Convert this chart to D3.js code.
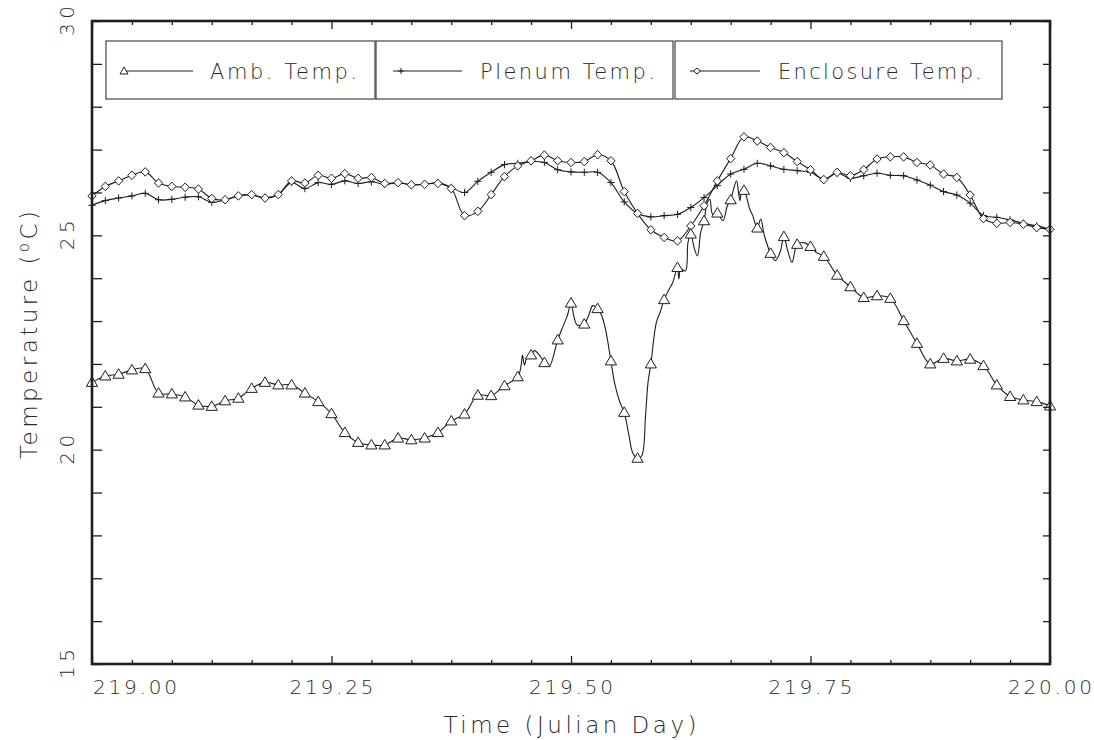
<!DOCTYPE html>
<html><head><meta charset="utf-8">
<script src="https://cdn.jsdelivr.net/npm/d3@7"></script>
<style>
body{margin:0;background:#fff}
svg{display:block}
text{font-family:"DejaVu Sans",sans-serif;font-weight:300;fill:#2a2a2a}
</style>
</head><body>
<svg id="c" width="1094" height="740"></svg>
<script>
// ---------- data ----------
const xDomain = [219, 220];
const yDomain = [15, 30];
const xTickLabels = ["219.00", "219.25", "219.50", "219.75", "220.00"];
const xTickValues = [219.00, 219.25, 219.50, 219.75, 220.00];
const yTickLabels = ["15", "20", "25", "30"];
const yTickValues = [15, 20, 25, 30];
const seriesNames = ["Amb. Temp.", "Plenum Temp.", "Enclosure Temp."];
const xTitle = "Time (Julian Day)";
const sampleStepDays = 1 / 72;   // one marker every 20 minutes

const ambient = [
  21.57, 21.72, 21.76, 21.86, 21.89, 21.32, 21.30, 21.23, 21.04, 21.01,
  21.14, 21.20, 21.43, 21.57, 21.51, 21.51, 21.32, 21.12, 20.84, 20.40,
  20.17, 20.11, 20.11, 20.27, 20.23, 20.27, 20.40, 20.67, 20.83, 21.27,
  21.26, 21.49, 21.70, 22.21, 22.03, 22.56, 23.42, 22.93, 23.29, 22.07,
  20.87, 19.80, 22.00, 23.50, 24.25, 25.03, 25.34, 25.52, 25.83, 26.05,
  25.17, 24.58, 24.97, 24.79, 24.74, 24.51, 24.07, 23.80, 23.55, 23.59,
  23.53, 23.01, 22.48, 22.00, 22.13, 22.07, 22.11, 21.96, 21.51, 21.24,
  21.16, 21.12, 21.02
];
// extra unmarked readings of the ambient trace (time, value)
const ambientDetail = [
  [219.4479, 21.96], [219.4494, 22.21], [219.4514, 21.97], [219.4536, 22.13],
  [219.4619, 22.31], [219.4676, 22.19], [219.4771, 21.94], [219.4904, 22.81],
  [219.4961, 23.12], [219.5029, 23.12], [219.5056, 22.93], [219.5094, 22.89],
  [219.5189, 23.16], [219.5227, 23.36], [219.5322, 23.12], [219.5360, 22.81],
  [219.5454, 21.57], [219.5511, 21.10], [219.5606, 20.32], [219.5644, 19.93],
  [219.5739, 19.86], [219.5778, 20.79], [219.5804, 21.57], [219.5891, 22.97],
  [219.5929, 23.20], [219.6024, 23.74], [219.6062, 23.90], [219.6126, 23.98],
  [219.6145, 24.21], [219.6195, 24.17], [219.6221, 24.83], [219.6289, 24.68],
  [219.6320, 24.52], [219.6354, 25.07], [219.6423, 25.77], [219.6449, 25.84],
  [219.6479, 25.49], [219.6586, 25.34], [219.6632, 25.69], [219.6727, 26.27],
  [219.6753, 25.92], [219.6764, 25.81], [219.6783, 26.04], [219.6866, 25.61],
  [219.6897, 25.46], [219.6980, 25.38], [219.7019, 24.99], [219.7133, 24.41],
  [219.7182, 24.60], [219.7258, 24.68], [219.7307, 24.37], [219.7428, 24.83],
  [219.7562, 24.60]
];
const plenum = [
  25.70, 25.81, 25.87, 25.92, 25.98, 25.83, 25.84, 25.89, 25.90, 25.77,
  25.83, 25.92, 25.94, 25.87, 25.96, 26.23, 26.09, 26.23, 26.19, 26.27,
  26.21, 26.25, 26.19, 26.23, 26.18, 26.19, 26.23, 26.12, 26.00, 26.26,
  26.47, 26.65, 26.68, 26.72, 26.70, 26.53, 26.48, 26.47, 26.47, 26.23,
  25.78, 25.51, 25.43, 25.46, 25.49, 25.65, 25.88, 26.16, 26.43, 26.54,
  26.68, 26.62, 26.54, 26.51, 26.47, 26.31, 26.45, 26.33, 26.39, 26.45,
  26.40, 26.39, 26.29, 26.17, 26.02, 25.94, 25.75, 25.46, 25.42, 25.36,
  25.28, 25.22, 25.14
];
const enclosure = [
  25.92, 26.14, 26.27, 26.40, 26.48, 26.22, 26.14, 26.12, 26.08, 25.86,
  25.83, 25.92, 25.95, 25.87, 25.95, 26.27, 26.22, 26.40, 26.33, 26.44,
  26.33, 26.35, 26.21, 26.23, 26.18, 26.19, 26.21, 26.09, 25.46, 25.56,
  25.95, 26.37, 26.62, 26.74, 26.87, 26.74, 26.70, 26.72, 26.88, 26.74,
  26.02, 25.51, 25.13, 24.95, 24.87, 25.22, 25.69, 26.27, 26.79, 27.30,
  27.20, 27.05, 26.93, 26.72, 26.53, 26.30, 26.47, 26.39, 26.53, 26.78,
  26.83, 26.83, 26.70, 26.64, 26.43, 26.35, 25.94, 25.39, 25.28, 25.30,
  25.26, 25.18, 25.14
];

// ---------- layout ----------
const L = 92, R = 1050, T = 21, B = 664;
const svg = d3.select("#c");
const x = d3.scaleLinear().domain(xDomain).range([L, R]);
const y = d3.scaleLinear().domain(yDomain).range([B, T]);
const ink = "#1e1e1e";

const timeOf = i => xDomain[0] + i * sampleStepDays;
const toPts = arr => arr.map((v, i) => [timeOf(i), v]);

const line = d3.line().x(d => x(d[0])).y(d => y(d[1])).curve(d3.curveCatmullRom.alpha(0.5));

const ambPts = toPts(ambient);
const ambLinePts = ambPts.concat(ambientDetail).sort((a, b) => a[0] - b[0]);
const plePts = toPts(plenum);
const encPts = toPts(enclosure);

const gLines = svg.append("g").attr("fill", "none").attr("stroke", ink).attr("stroke-width", 1.1);
gLines.append("path").attr("d", line(plePts));
gLines.append("path").attr("d", line(encPts));
gLines.append("path").attr("d", line(ambLinePts));

// markers
const triPath = "M0,-5.5 L5.6,4 L-5.6,4 Z";
const diaPath = "M0,-4.3 L4.1,0 L0,4.3 L-4.1,0 Z";
const plusPath = "M-3.6,0 H3.6 M0,-3.6 V3.6";

function markers(pts, path, fill) {
  svg.append("g").selectAll("path").data(pts).join("path")
    .attr("d", path)
    .attr("transform", d => `translate(${x(d[0])},${y(d[1])})`)
    .attr("fill", fill).attr("stroke", ink).attr("stroke-width", 1);
}
markers(plePts, plusPath, "none");
markers(encPts, diaPath, "#fff");
markers(ambPts, triPath, "#fff");

// ---------- axes ----------
const hourTicks = d3.range(0, 25).map(h => xDomain[0] + h / 24);
const isMajor = d => Math.abs(d * 4 - Math.round(d * 4)) < 1e-6;

const gB = svg.append("g").attr("transform", `translate(0,${B})`)
  .call(d3.axisBottom(x).tickValues(hourTicks).tickSize(-4).tickFormat(""));
gB.selectAll(".tick line").attr("y2", d => isMajor(d) ? -8 : -4);
const gT = svg.append("g").attr("transform", `translate(0,${T})`)
  .call(d3.axisTop(x).tickValues(hourTicks).tickSize(-4).tickFormat(""));
gT.selectAll(".tick line").attr("y2", d => isMajor(d) ? 8 : 4);
const degTicks = d3.range(yDomain[0], yDomain[1] + 1);
svg.append("g").attr("transform", `translate(${L},0)`)
  .call(d3.axisLeft(y).tickValues(degTicks).tickSize(-10).tickFormat(""));
svg.append("g").attr("transform", `translate(${R},0)`)
  .call(d3.axisRight(y).tickValues(degTicks).tickSize(-7).tickFormat(""));
svg.selectAll(".domain").remove();
svg.selectAll(".tick line").attr("stroke", ink).attr("stroke-width", 1.3);

svg.append("rect").attr("x", L).attr("y", T).attr("width", R - L).attr("height", B - T)
  .attr("fill", "none").attr("stroke", ink).attr("stroke-width", 2.6);

// x tick labels
svg.append("g").selectAll("text").data(xTickValues).join("text")
  .attr("x", (d, i) => i === 0 ? x(d) + 1 : x(d))
  .attr("y", 694)
  .attr("text-anchor", (d, i) => i === 0 ? "start" : "middle")
  .attr("font-size", 20)
  .attr("textLength", 84).attr("lengthAdjust", "spacing")
  .text((d, i) => xTickLabels[i]);

// y tick labels (rotated)
svg.append("g").selectAll("text").data(yTickValues).join("text")
  .attr("transform", d => `translate(74,${y(d)}) rotate(-90)`)
  .attr("text-anchor", "middle")
  .attr("font-size", 20)
  .attr("textLength", 30).attr("lengthAdjust", "spacing")
  .text((d, i) => yTickLabels[i]);

// axis titles
svg.append("text").attr("x", 570).attr("y", 733).attr("text-anchor", "middle")
  .attr("font-size", 23).attr("textLength", 253).attr("lengthAdjust", "spacing")
  .text(xTitle);

const yt = svg.append("text").attr("transform", "translate(37,335) rotate(-90)")
  .attr("text-anchor", "middle").attr("font-size", 23)
  .attr("textLength", 248).attr("lengthAdjust", "spacing");
yt.append("tspan").text("Temperature (");
yt.append("tspan").attr("font-size", 15).attr("dy", -8).text("o");
yt.append("tspan").attr("dy", 8).text("C)");

// ---------- legend ----------
const legendBoxes = [[106, 375], [376, 673], [675, 1002]];
const legendLine = [[123, 193], [393, 462], [690, 760]];
const legendText = [[210, 147], [480, 175], [778, 204]];
const legendMarkers = ["M0,-4 L4,3 L-4,3 Z", "M-3,0 H3 M0,-3 V3", "M0,-3 L3.5,0 L0,3 L-3.5,0 Z"];
const legendMarkerX = [124, 401, 697];
const lg = svg.append("g");
seriesNames.forEach((name, i) => {
  lg.append("rect").attr("x", legendBoxes[i][0]).attr("y", 41)
    .attr("width", legendBoxes[i][1] - legendBoxes[i][0]).attr("height", 58)
    .attr("fill", "none").attr("stroke", "#444").attr("stroke-width", 1.2);
  lg.append("line").attr("x1", legendLine[i][0]).attr("x2", legendLine[i][1])
    .attr("y1", 71).attr("y2", 71).attr("stroke", ink).attr("stroke-width", 1.1);
  lg.append("path").attr("d", legendMarkers[i])
    .attr("transform", `translate(${legendMarkerX[i]},71)`)
    .attr("fill", i === 1 ? "none" : "#fff").attr("stroke", ink).attr("stroke-width", 1);
  lg.append("text").attr("x", legendText[i][0]).attr("y", 79)
    .attr("font-size", 21).attr("textLength", legendText[i][1]).attr("lengthAdjust", "spacing")
    .text(name);
});
</script>
</body></html>
